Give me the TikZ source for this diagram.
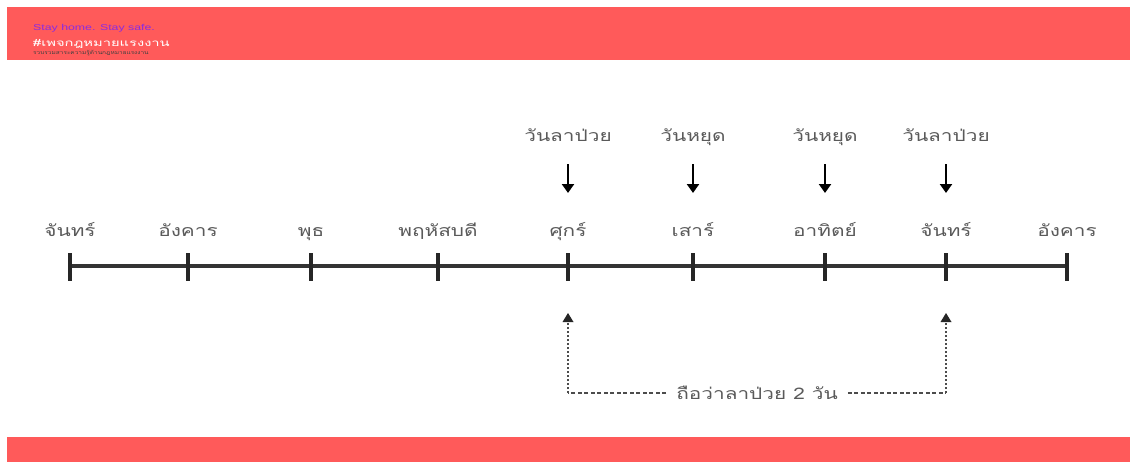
\documentclass[tikz,border=0pt]{standalone}
\usepackage{fontspec}
\setmainfont{Liberation Sans}
\newfontfamily\thaifont[Script=Thai,FakeStretch=1.3]{Loma}
\newfontfamily\wideheader[FakeStretch=1.45]{Liberation Sans}
\newfontfamily\widethai[Script=Thai,FakeStretch=1.5]{Loma}
\newfontfamily\smallthai[Script=Thai,FakeStretch=1.3]{Loma}
\usetikzlibrary{arrows.meta}
\definecolor{bandred}{HTML}{FF5A5A}
\definecolor{labelgray}{HTML}{5A5A5A}
\definecolor{tagpurple}{HTML}{8A2BE2}
\tikzset{
  x=1pt, y=-1pt,
  day/.style={font=\thaifont\fontsize{16}{18}\selectfont, text=labelgray, anchor=center, inner sep=0pt},
  note/.style={font=\thaifont\fontsize{16}{18}\selectfont, text=labelgray, anchor=center, inner sep=0pt},
  axis/.style={line width=3.4pt, draw=black!80},
  tickmark/.style={line width=3.6pt, draw=black!85},
  pointer/.style={line width=2.8pt, -{Triangle[length=9pt,width=12pt]}},
  span/.style={line width=1.6pt, dash pattern=on 4pt off 2.5pt, draw=black!70},
  spanup/.style={line width=1.8pt, dash pattern=on 2pt off 2pt, draw=black!70},
}
\begin{document}
\begin{tikzpicture}
\useasboundingbox (0,0) rectangle (1134,463);
\fill[white] (0,0) rectangle (1134,463);
% header and footer bands
\fill[bandred] (7,7) rectangle (1130,60);
\fill[bandred] (7,437) rectangle (1130,462);
\node[anchor=west, inner sep=0pt, text=tagpurple, font=\wideheader\fontsize{8.5}{9}\selectfont] (tagA) at (33,28) {Stay home. Stay safe.};
\node[anchor=base west, inner sep=0pt, text=white, font=\widethai\fontsize{9.8}{10}\selectfont] (tagB) at (33,46) {\#เพจกฎหมายแรงงาน};
\node[anchor=base west, inner sep=0pt, text=black!75, font=\smallthai\fontsize{5}{5}\selectfont] (tagC) at (33,54.5) {รวบรวมสาระความรู้ด้านกฎหมายแรงงาน};

% timeline axis
\coordinate (L) at (70,266);
\coordinate (R) at (1067,266);
\draw[axis] (L) -- (R);

% ticks and day names
\foreach \n/\xx/\lab in {t1/70/จันทร์, t2/188/อังคาร, t3/311/พุธ, t4/438/พฤหัสบดี, t5/568/ศุกร์, t6/693/เสาร์, t7/825/อาทิตย์, t8/946/จันทร์, t9/1067/อังคาร}{
  \coordinate (\n) at (\xx,266);
  \draw[tickmark] (\xx,253) -- (\xx,281);
  \node[day, anchor=base] (d\n) at (\xx,236) {\lab};
}

% marked days
\foreach \n/\xx/\lab in {m5/568/วันลาป่วย, m6/693/วันหยุด, m7/825/วันหยุด, m8/946/วันลาป่วย}{
  \node[note, anchor=base] (\n) at (\xx,141) {\lab};
  \coordinate (\n top) at (\xx,164);
  \coordinate (\n bot) at (\xx,193);
  \draw[pointer] (\n top) -- (\n bot);
}

% span bracket
\coordinate (sL) at (568,393);
\coordinate (sR) at (946,393);
\coordinate (sLup) at (568,322);
\coordinate (sRup) at (946,322);
\node[note, anchor=base] (span) at (757,399) {ถือว่าลาป่วย 2 วัน};
\draw[span] (span.west |- sL) ++(-10,0) -- (sL);
\draw[spanup] (sL) -- (sLup);
\draw[span] (span.east |- sR) ++(10,0) -- (sR);
\draw[spanup] (sR) -- (sRup);
\fill[black!85] (sLup) ++(0,-9) -- ++(-5.5,9) -- ++(11,0) -- cycle;
\fill[black!85] (sRup) ++(0,-9) -- ++(-5.5,9) -- ++(11,0) -- cycle;
\end{tikzpicture}
\end{document}
